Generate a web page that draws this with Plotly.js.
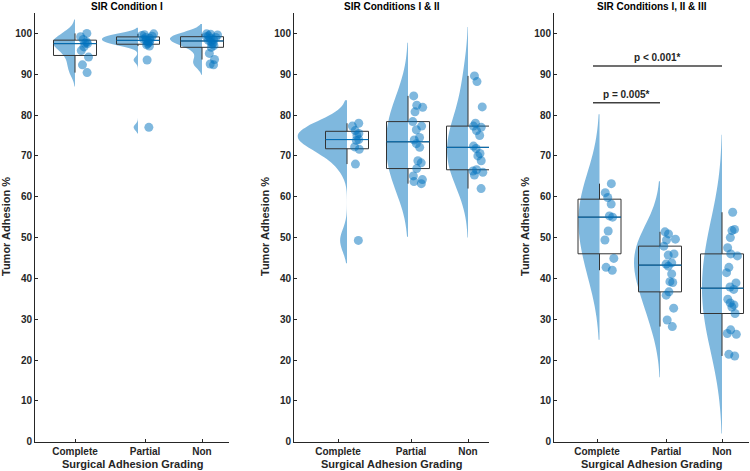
<!DOCTYPE html>
<html><head><meta charset="utf-8">
<script src="https://cdn.plot.ly/plotly-3.0.1.min.js"></script>
<style>html,body{margin:0;padding:0;background:#fff}#chart{width:750px;height:471px}</style>
</head><body><div id="chart"></div>
<script>
// ---------- data ----------
const categories = ['Complete', 'Partial', 'Non'];
const panelTitles = ['SIR Condition I', 'SIR Conditions I & II', 'SIR Conditions I, II & III'];
const yTickVals = [0, 10, 20, 30, 40, 50, 60, 70, 80, 90, 100];
const xTitle = 'Surgical Adhesion Grading';
const yTitle = 'Tumor Adhesion %';

const c1Complete = [100.0, 99.2, 98.5, 97.9, 97.6, 97.5, 96.7, 95.8, 94.2, 92.3, 90.4];
const c1Partial  = [99.9, 99.7, 99.5, 99.3, 99.0, 98.8, 98.6, 98.4, 98.2, 98.0, 97.8, 97.5, 97.2, 96.9, 93.5, 77.0];
const c1Non      = [99.9, 99.8, 99.6, 99.4, 99.2, 99.0, 98.8, 98.5, 98.3, 98.0, 97.7, 97.4, 97.0, 96.6, 95.1, 93.6, 92.5, 92.3];

const c2Complete = [78.0, 77.3, 76.2, 75.5, 75.0, 74.0, 73.8, 72.2, 71.6, 68.0, 49.3];
const c2Partial  = [84.7, 82.4, 81.9, 80.8, 78.4, 77.3, 76.4, 74.5, 73.9, 73.0, 72.1, 68.8, 68.3, 66.9, 65.1, 64.2, 63.7, 63.2];
const c2Non      = [89.6, 88.2, 82.0, 78.0, 77.3, 77.0, 76.2, 75.0, 72.4, 71.8, 70.6, 70.0, 68.8, 66.6, 66.3, 66.0, 65.3, 62.0];

const c3Complete = [63.2, 61.0, 59.8, 58.2, 55.3, 55.0, 51.6, 49.4, 44.9, 42.7, 42.0];
const c3Partial  = [51.4, 50.9, 49.6, 49.4, 47.9, 46.0, 45.7, 43.8, 43.5, 43.0, 41.1, 39.2, 39.0, 36.7, 35.9, 32.7, 29.8, 28.2];
const c3Non      = [56.2, 52.0, 51.7, 50.0, 47.5, 46.0, 45.5, 42.7, 41.4, 38.9, 37.9, 37.3, 34.9, 34.0, 33.5, 33.0, 31.4, 27.4, 26.5, 26.3, 21.4, 21.0];

const pLabels  = ['p = 0.005*', 'p < 0.001*'];
const pHeights = [83, 92];

// ---------- layout constants ----------
const W = 750, H = 471;
const BLUE = 'rgb(0,114,189)';
const FILL = 'rgba(0,114,189,0.5)';
const TXT = '#262626';
const FONT = 'Liberation Sans, Arial, sans-serif';
const BOXW = 43;
const plotTop = 13, plotBottom = 441.7;

const panels = [
  {dom: [35, 229], pos: [40, 103, 167], ticks: [40, 110, 167], bw: [1.7, 0.75, 1.2], vw: [22, 36, 32],
   data: [c1Complete, c1Partial, c1Non], titleX: 127, yTitleX: 6},
  {dom: [294, 489], pos: [53, 114, 174], ticks: [44, 117, 174], bw: [2.8, 6.5, 6.0], vw: [49, 22, 21],
   data: [c2Complete, c2Partial, c2Non], titleX: 392, yTitleX: 265},
  {dom: [554, 749], pos: [45.5, 106, 168], ticks: [43, 112, 168], bw: [8.5, 6.2, 9.5], vw: [21, 26, 20],
   data: [c3Complete, c3Partial, c3Non], titleX: 652, yTitleX: 525}
];

function median(a) {
  const s = a.slice().sort((p, q) => p - q);
  const n = s.length;
  return n % 2 ? s[(n - 1) / 2] : (s[n / 2 - 1] + s[n / 2]) / 2;
}

const traces = [];
const layout = {
  width: W, height: H, margin: {l: 0, r: 0, t: 0, b: 0},
  paper_bgcolor: '#fff', plot_bgcolor: 'rgba(0,0,0,0)',
  showlegend: false, violinmode: 'overlay', boxmode: 'overlay',
  font: {family: FONT, color: TXT},
  annotations: [], shapes: []
};

panels.forEach((p, i) => {
  const sfx = i === 0 ? '' : String(i + 1);
  const xa = 'x' + sfx, ya = 'y' + sfx;
  layout['xaxis' + sfx] = {
    domain: [p.dom[0] / W, p.dom[1] / W], range: [0, p.dom[1] - p.dom[0]], anchor: ya,
    tickmode: 'array', tickvals: p.ticks, ticktext: categories,
    ticks: 'inside', ticklen: 3, tickcolor: TXT, showline: true, linecolor: TXT, linewidth: 1,
    showgrid: false, zeroline: false, fixedrange: true,
    tickfont: {family: FONT, size: 10, color: TXT, weight: 'bold'}
  };
  layout['yaxis' + sfx] = {
    domain: [1 - plotBottom / H, 1 - plotTop / H], range: [0, 105], anchor: xa,
    tickmode: 'array', tickvals: yTickVals,
    ticks: 'inside', ticklen: 3, tickcolor: TXT, showline: true, linecolor: TXT, linewidth: 1,
    showgrid: false, zeroline: false, fixedrange: true,
    tickfont: {family: FONT, size: 10, color: TXT, weight: 'bold'}
  };
  p.data.forEach((vals, k) => {
    traces.push({
      type: 'violin', xaxis: xa, yaxis: ya, x0: p.pos[k], y: vals, side: 'negative',
      bandwidth: p.bw[k], width: 2 * p.vw[k], scalemode: 'width', spanmode: 'soft',
      fillcolor: FILL, line: {width: 0, color: FILL}, points: false,
      box: {visible: false}, meanline: {visible: false}, hoverinfo: 'skip'
    });
    traces.push({
      type: 'box', xaxis: xa, yaxis: ya, x0: p.pos[k], y: vals, width: BOXW,
      fillcolor: 'rgba(0,0,0,0)', line: {color: '#333333', width: 1}, whiskerwidth: 0,
      boxpoints: 'all', jitter: 0.3, pointpos: 0.47,
      marker: {size: 9, color: FILL, line: {width: 0}}, hoverinfo: 'skip'
    });
    const m = median(vals);
    traces.push({
      type: 'scatter', mode: 'lines', xaxis: xa, yaxis: ya,
      x: [p.pos[k] - BOXW / 2, p.pos[k] + BOXW / 2], y: [m, m],
      line: {color: BLUE, width: 1}, hoverinfo: 'skip'
    });
  });
  layout.annotations.push({
    xref: 'paper', yref: 'paper', x: p.titleX / W, y: 1 - 7 / H, text: panelTitles[i],
    showarrow: false, xanchor: 'center', yanchor: 'middle',
    font: {family: FONT, size: 10, color: '#000', weight: 'bold'}
  });
  layout.annotations.push({
    xref: 'paper', yref: 'paper', x: (p.dom[0] + p.dom[1]) / 2 / W, y: 1 - 464 / H, text: xTitle,
    showarrow: false, xanchor: 'center', yanchor: 'middle',
    font: {family: FONT, size: 11, color: TXT, weight: 'bold'}
  });
  layout.annotations.push({
    xref: 'paper', yref: 'paper', x: p.yTitleX / W, y: 1 - 227 / H, text: yTitle, textangle: -90,
    showarrow: false, xanchor: 'center', yanchor: 'middle',
    font: {family: FONT, size: 11, color: TXT, weight: 'bold'}
  });
});

// significance bars on panel 3
const p3 = panels[2];
const barStart = p3.pos[0] - 6.5;
[p3.pos[1], p3.pos[2]].forEach((xe, j) => {
  layout.shapes.push({
    type: 'line', xref: 'x3', yref: 'y3', x0: barStart, x1: xe, y0: pHeights[j], y1: pHeights[j],
    line: {color: '#404040', width: 1.5}
  });
  layout.annotations.push({
    xref: 'x3', yref: 'y3', x: (barStart + xe) / 2, y: pHeights[j], text: pLabels[j],
    showarrow: false, xanchor: 'center', yanchor: 'bottom', yshift: 1,
    font: {family: FONT, size: 10, color: TXT, weight: 'bold'}
  });
});

Plotly.newPlot('chart', traces, layout, {staticPlot: true, displayModeBar: false});
</script></body></html>
